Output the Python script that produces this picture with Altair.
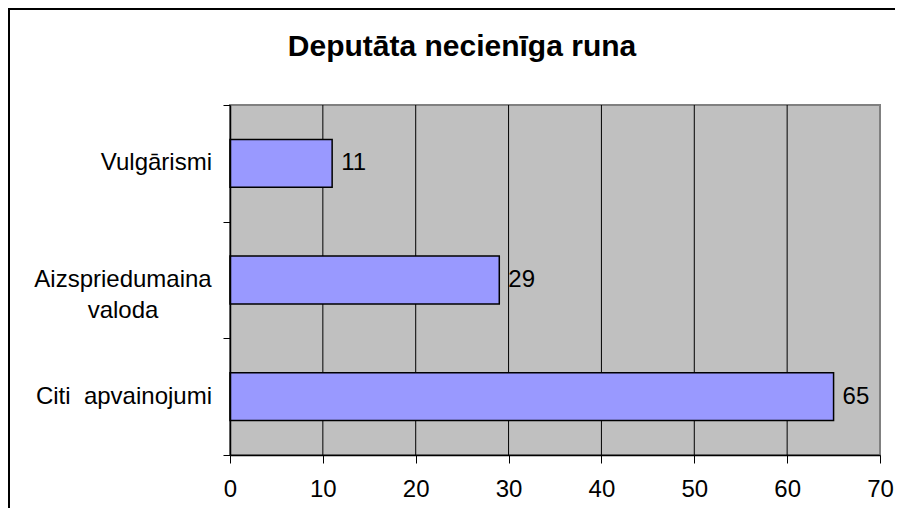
import altair as alt
import pandas as pd

categories = ["Vulgārismi", "Aizspriedumaina valoda", "Citi apvainojumi"]
values = [11, 29, 65]
x_ticks = [0, 10, 20, 30, 40, 50, 60, 70]
title_text = "Deputāta necienīga runa"
# display text of the category labels (line-wrapped as in the original)
single_labels = {"Vulgārismi": "Vulgārismi", "Citi apvainojumi": "Citi\u00a0\u00a0apvainojumi"}
multi_labels = {"Aizspriedumaina valoda": ["Aizspriedumaina", "valoda"]}

df = pd.DataFrame({"cat": categories, "val": values})
df_single = pd.DataFrame({"cat": list(single_labels.keys()), "txt": list(single_labels.values())})
df_multi = pd.DataFrame({"cat": list(multi_labels.keys()), "txt": list(multi_labels.values())})
df_grid = pd.DataFrame({"tick": x_ticks[1:-1]})
one = alt.Data(values=[{}])

FONT = "Liberation Sans"
FS = 24

y_scale = alt.Scale(domain=categories, paddingInner=0, paddingOuter=0)
x_scale = alt.Scale(domain=[0, 70], nice=False)

y_enc = alt.Y(
    "cat:N",
    sort=categories,
    title=None,
    scale=y_scale,
    axis=alt.Axis(
        tickBand="extent",
        tickSize=7,
        tickColor="#000000",
        domainColor="#000000",
        domainWidth=1.5,
        labels=False,
        grid=False,
        zindex=1,
    ),
)
x_enc = alt.X(
    "val:Q",
    title=None,
    scale=x_scale,
    axis=alt.Axis(
        values=x_ticks,
        tickSize=8,
        tickColor="#000000",
        domainColor="#000000",
        domainWidth=1.5,
        grid=False,
        labelPadding=14,
        labelFont=FONT,
        labelFontSize=FS,
        labelColor="#000000",
        labelFlush=False,
        zindex=1,
    ),
)

plot_bg = alt.Chart(one).mark_rect(fill="#C0C0C0", stroke="#808080", strokeWidth=2).encode(
    x=alt.value(0), x2=alt.value("width"), y=alt.value(0), y2=alt.value("height")
)

grid = alt.Chart(df_grid).mark_rule(color="#000000", strokeWidth=1).encode(
    x=alt.X("tick:Q", scale=x_scale), y=alt.value(0), y2=alt.value("height")
)

bars = alt.Chart(df).mark_bar(
    height={"band": 0.41}, color="#9999FF", stroke="#000000", strokeWidth=1.5
).encode(x=x_enc, y=y_enc)

values_text = alt.Chart(df).mark_text(
    align="left", baseline="middle", dx=9, font=FONT, fontSize=FS, color="#000000"
).encode(x="val:Q", y=alt.Y("cat:N", sort=categories), text="val:Q")

ylab_single = alt.Chart(df_single).mark_text(
    align="right", baseline="middle", font=FONT, fontSize=FS, color="#000000"
).encode(x=alt.value(-18), y=alt.Y("cat:N", sort=categories), text="txt:N")

ylab_multi = alt.Chart(df_multi).mark_text(
    align="center", baseline="middle", font=FONT, fontSize=FS, color="#000000", lineHeight=31
).encode(x=alt.value(-107), y=alt.Y("cat:N", sort=categories), text="txt")

title = alt.Chart(one).mark_text(
    align="center", baseline="alphabetic", font=FONT, fontSize=30, fontWeight="bold", color="#000000"
).encode(x=alt.value(232), y=alt.value(-49), text=alt.value(title_text))

frame_top = alt.Chart(one).mark_rule(color="#000000", strokeWidth=2).encode(
    x=alt.value(-222), x2=alt.value(700), y=alt.value(-96)
)
frame_left = alt.Chart(one).mark_rule(color="#000000", strokeWidth=2).encode(
    x=alt.value(-221), y=alt.value(-97), y2=alt.value(450)
)

chart = (
    alt.layer(plot_bg, grid, bars, values_text, ylab_single, ylab_multi, title, frame_top, frame_left)
    .properties(
        width=650,
        height=350,
        autosize=alt.AutoSizeParams(type="none"),
        padding={"left": 222, "top": 97, "right": 15, "bottom": 53},
    )
    .configure_view(strokeWidth=0)
    .configure(background="#FFFFFF")
)

chart.save("out.html", embed_options={"renderer": "svg", "actions": False})
